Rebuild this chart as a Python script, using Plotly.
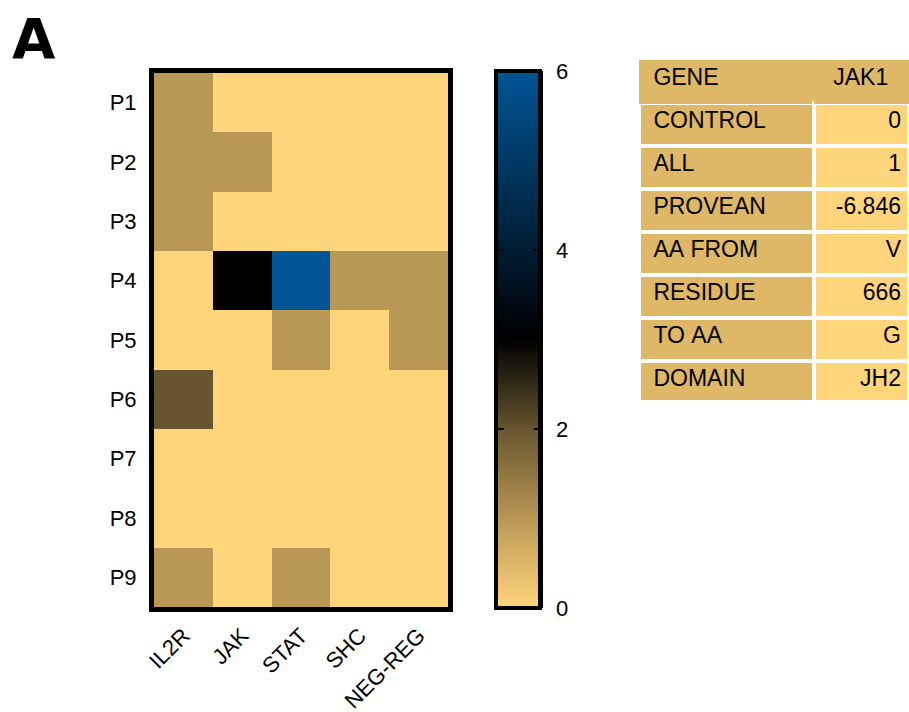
import plotly.graph_objects as go

W, H = 909, 712

patients = ["P1", "P2", "P3", "P4", "P5", "P6", "P7", "P8", "P9"]
pathways = ["IL2R", "JAK", "STAT", "SHC", "NEG-REG"]
counts = [
    [1, 0, 0, 0, 0],
    [1, 1, 0, 0, 0],
    [1, 0, 0, 0, 0],
    [0, 3, 6, 1, 1],
    [0, 0, 1, 0, 1],
    [2, 0, 0, 0, 0],
    [0, 0, 0, 0, 0],
    [0, 0, 0, 0, 0],
    [1, 0, 1, 0, 0],
]
cbar_ticks = [0, 2, 4, 6]

table_keys = ["CONTROL", "ALL", "PROVEAN", "AA FROM", "RESIDUE", "TO AA", "DOMAIN"]
table_vals = ["0", "1", "-6.846", "V", "666", "G", "JH2"]
header_key, header_val = "GENE", "JAK1"

colorscale = [
    [0.0, "#FFD57B"],
    [1 / 6, "#B99755"],
    [2 / 6, "#66552E"],
    [0.5, "#000000"],
    [1.0, "#005596"],
]
black_scale = [[0, "black"], [1, "black"]]

def px_x(x):
    return min(max(x / W, 0), 1)

def px_y(y):
    return min(max(1 - y / H, 0), 1)

FONT = "Liberation Sans, Arial, Helvetica, sans-serif"
NB = "\u00a0"

def cbar(x, thickness, **kw):
    base = dict(
        x=px_x(x), xanchor="left", xpad=0,
        y=px_y(71), yanchor="top", ypad=0,
        len=537 / H, lenmode="fraction",
        thickness=thickness, thicknessmode="pixels",
        tickvals=cbar_ticks, ticktext=[str(t) for t in cbar_ticks],
        tickwidth=2, tickcolor="black",
        tickfont=dict(size=22, color="black", family=FONT),
    )
    base.update(kw)
    return base

fig = go.Figure()
# main heatmap with its colour bar (right-edge inner ticks)
fig.add_trace(go.Heatmap(
    z=counts, x=pathways, y=patients,
    colorscale=colorscale, zmin=0, zmax=6,
    colorbar=cbar(496, 44, outlinewidth=4, outlinecolor="black",
                  ticks="inside", ticklen=8, showticklabels=False),
    showscale=True,
))
# transparent duplicates: left-edge inner ticks, and the tick labels
fig.add_trace(go.Heatmap(
    z=counts, x=pathways, y=patients,
    colorscale=black_scale, zmin=0, zmax=6, opacity=0, hoverinfo="skip",
    colorbar=cbar(496, 1, outlinewidth=0, ticks="outside", ticklen=7,
                  showticklabels=False),
    showscale=True,
))
fig.add_trace(go.Heatmap(
    z=counts, x=pathways, y=patients,
    colorscale=black_scale, zmin=0, zmax=6, opacity=0, hoverinfo="skip",
    colorbar=cbar(541, 1, outlinewidth=0, ticks="outside", ticklen=10,
                  tickcolor="rgba(0,0,0,0)", showticklabels=True),
    showscale=True,
))

fig.add_trace(go.Table(
    domain=dict(x=[px_x(639), px_x(909)], y=[px_y(400), px_y(60)]),
    columnwidth=[175, 95],
    header=dict(
        values=[NB + header_key, header_val + NB * 2],
        fill_color="#DEB866",
        line=dict(color="#DEB866", width=1),
        align=["left", "right"],
        font=dict(size=23, color="black", family=FONT),
        height=43,
    ),
    cells=dict(
        values=[[NB + k.replace(" ", NB) for k in table_keys], table_vals],
        fill_color=[["#DEB866"] * len(table_keys), ["#FED57B"] * len(table_vals)],
        line=dict(color="white", width=4),
        align=["left", "right"],
        font=dict(size=23, color="black", family=FONT),
        height=43,
    ),
))

fig.update_xaxes(
    domain=[px_x(154), px_x(448)], automargin=False,
    showline=True, mirror=True, linewidth=5, linecolor="black",
    tickangle=-45, ticks="", ticklabelstandoff=2, showgrid=False, zeroline=False,
    tickfont=dict(size=22, color="black", family=FONT),
)
fig.update_yaxes(
    domain=[px_y(607), px_y(73)], automargin=False,
    autorange="reversed",
    showline=True, mirror=True, linewidth=5, linecolor="black",
    ticks="", ticklabelstandoff=8, showgrid=False, zeroline=False,
    tickfont=dict(size=22, color="black", family=FONT),
)

fig.add_annotation(
    text="<b>A</b>", x=px_x(10), y=px_y(4), xref="paper", yref="paper",
    xanchor="left", yanchor="top", showarrow=False,
    font=dict(size=56, color="black", family="DejaVu Sans, Arial, sans-serif"),
)

fig.update_layout(
    width=W, height=H,
    margin=dict(l=0, r=0, t=0, b=0),
    paper_bgcolor="white", plot_bgcolor="white",
    font=dict(family=FONT, color="black"),
)

fig.write_html("out.html")
